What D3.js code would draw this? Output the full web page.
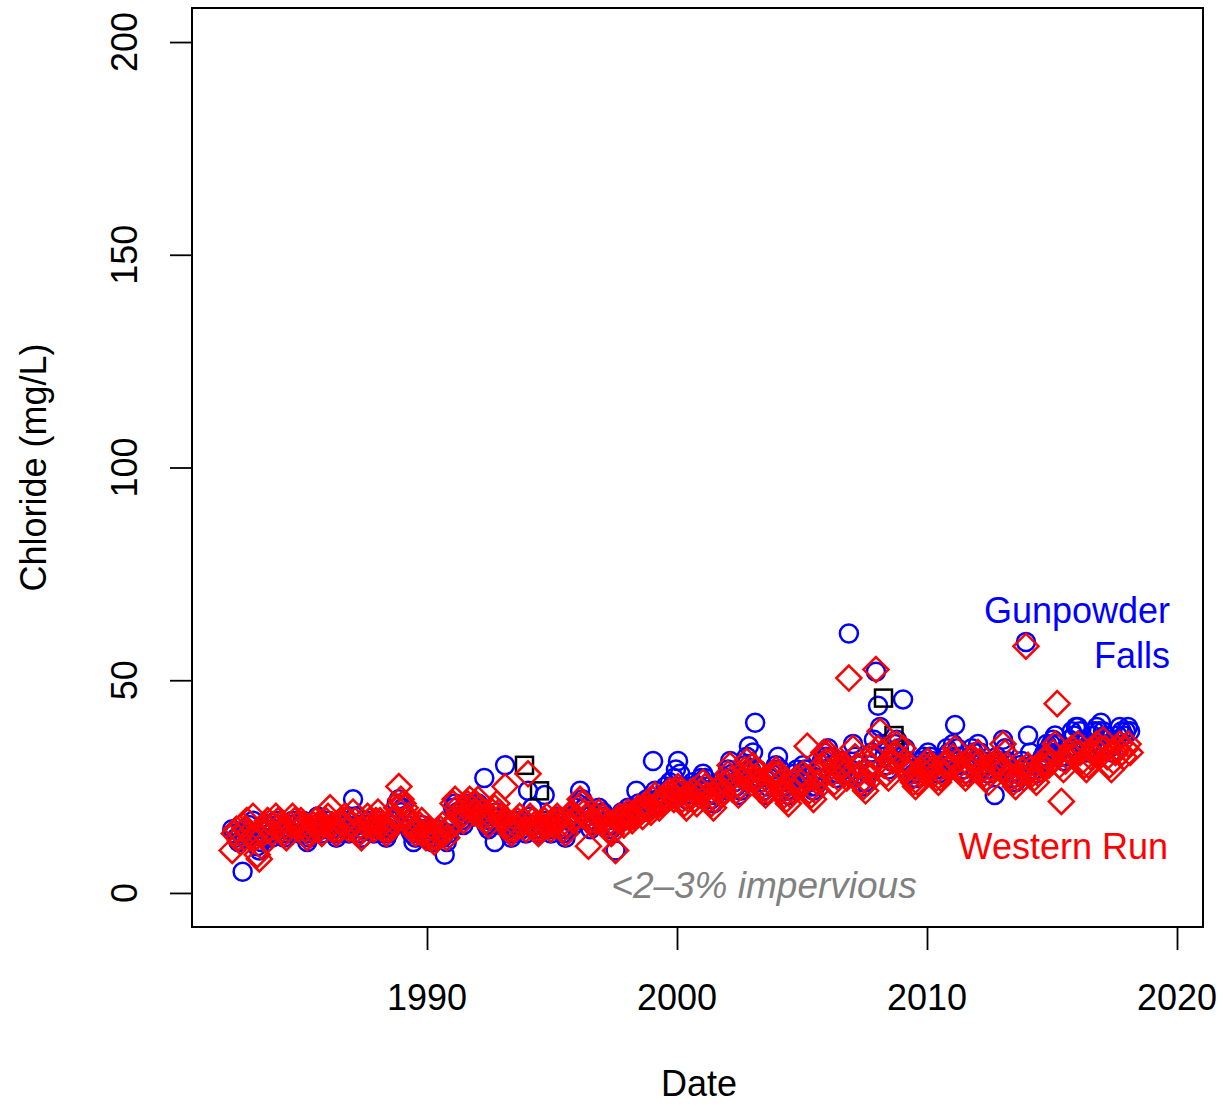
<!DOCTYPE html>
<html>
<head>
<meta charset="utf-8">
<script src="https://cdn.jsdelivr.net/npm/d3@7/dist/d3.min.js"></script>
<style>
  html, body { margin: 0; padding: 0; background: #fff; }
  svg { display: block; }
  text { font-family: "Liberation Sans", Arial, Helvetica, sans-serif; }
</style>
</head>
<body>
<svg id="chart" width="1223" height="1105"></svg>
<script>
// ---- Data (monthly samples, Jan..Dec; null = no sample) ----
const years = [1982,1983,1984,1985,1986,1987,1988,1989,1990,1991,1992,1993,1994,1995,1996,1997,1998,1999,2000,2001,2002,2003,2004,2005,2006,2007,2008,2009,2010,2011,2012,2013,2014,2015,2016,2017,2018];

// Gunpowder Falls (blue circles), chloride mg/L
const gunpowderFalls = [
  [null,null,15,14,13,12,14,5,13,15,16,14],
  [17,14,11,10,12,13,15,16,14,13,15,17],
  [16,15,14,13,14,15,16,17,16,15,14,16],
  [17,14,12,13,14,15,16,18,15,14,15,16],
  [17,16,15,14,13,14,16,17,15,16,14,15],
  [22,18,16,14,13,15,16,17,16,15,14,16],
  [17,16,15,14,13,14,15,16,17,21,22,19],
  [20,18,16,15,14,12,13,14,15,16,15,14],
  [14,13,12,13,14,15,14,13,9,12,14,16],
  [20,21,19,18,17,16,19,20,21,19,18,20],
  [21,19,18,27,16,15,17,18,12,19,18,17],
  [16,30,15,14,13,14,15,16,17,15,16,14],
  [24,18,20,16,15,14,15,16,23,17,15,14],
  [16,17,18,17,15,14,13,15,17,18,16,17],
  [21,24,22,20,18,17,15,16,17,18,20,18],
  [19,18,17,16,15,16,10,17,18,19,17,19],
  [20,19,18,19,24,21,20,19,21,22,21,20],
  [31,24,22,21,22,23,25,24,26,25,27,29],
  [31,28,25,23,22,24,25,26,24,23,25,27],
  [28,27,25,23,22,21,23,25,26,24,25,27],
  [29,31,28,26,25,23,24,27,30,32,34.5,29],
  [33,40,29,27,26,24,23,25,27,28,29,30],
  [32,29,26,25,24,23,24,26,28,29,27,28],
  [30,29,27,26,25,24,25,27,29,31,33,32],
  [34,32,30,28,27,28,30,31,29,28,61,29],
  [35,32,30,28,26,25,26,28,30,33,36,52],
  [44,39,35,32,30,29,31,33,35,36,34,32],
  [45.5,34,31,30,29,28,27,28,30,31,32,30],
  [33,32,31,30,29,28,29,31,32,34,33,32],
  [35,39.5,34,32,30,29,28,30,32,34,33,31],
  [35,33,31,30,29,28,29,30,23,32,31,30],
  [36,34,31,29,28,27,26,28,30,31,29,59],
  [37,33,30,29,28,30,31,32,33,35,34,35],
  [36,37,35,33,32,31,32,34,36,38,37,39],
  [39,38,36,34,33,34,35,37,38,39,38,40],
  [38,37,35,34,33,35,36,37,39,38,37,38],
  [39,38,null,null,null,null,null,null,null,null,null,null]
];

// Western Run (red diamonds), chloride mg/L
const westernRun = [
  [null,null,10,14,15,13,12,16,15,17,14,13],
  [18,13,9,8,11,14,16,17,15,14,16,18],
  [17,16,15,14,13,15,16,18,17,16,15,17],
  [16,15,13,14,15,16,17,16,15,14,16,17],
  [18,20,16,15,14,15,17,16,18,17,15,16],
  [19,17,15,14,13,15,16,18,17,16,15,17],
  [19,17,16,15,14,15,16,17,18,20,25,22],
  [21,20,18,17,16,15,14,15,16,17,14,13],
  [15,14,13,12,13,14,15,16,14,13,15,16],
  [21,22,20,19,18,17,20,21,22,20,19,21],
  [22,20,19,18,17,16,18,19,20,21,19,18],
  [17,25,16,15,14,15,16,17,18,16,17,15],
  [28,18,17,16,15,14,15,16,17,18,16,15],
  [16,17,18,17,16,15,14,16,18,19,17,18],
  [20,22,21,19,18,11,17,16,17,18,19,17],
  [18,17,16,15,14,16,10,17,18,17,16,18],
  [19,18,17,18,19,20,19,18,20,21,20,19],
  [22,23,21,20,21,22,23,22,24,23,22,24],
  [25,24,22,21,20,22,23,24,22,21,23,24],
  [26,25,23,22,21,20,22,24,25,23,24,26],
  [28,30,27,25,24,23,25,27,29,31,28,27],
  [30,29,27,26,25,24,23,24,26,27,28,29],
  [28,26,24,23,22,21,23,24,26,27,25,26],
  [28,27,34.5,24,23,22,24,26,28,30,33,31],
  [33,31,28,26,25,27,29,30,28,27,50.5,28],
  [34,32,30,28,26,25,24,26,28,30,32,52.5],
  [34,38,33,30,28,27,29,31,33,35,32,30],
  [34,31,29,28,27,26,25,26,28,29,30,28],
  [31,30,29,28,27,26,27,28,30,31,29,30],
  [32,34,31,30,29,28,27,28,30,32,31,30],
  [33,31,29,28,27,26,28,29,30,31,30,29],
  [35,33,30,28,27,26,25,27,28,29,27,58],
  [30,29,28,27,26,28,29,30,31,32,30,31],
  [33,35,44.5,30,21.5,29,31,32,33,34,32,33],
  [35,33,31,30,29,30,32,33,34,35,33,34],
  [36,34,32,30,29,31,33,34,35,33,32,34],
  [35,33,null,null,null,null,null,null,null,null,null,null]
];

// Partially visible black squares (third site)
const otherDates = [1993.9, 1994.5, 2008.26, 2008.68];
const otherValues = [30, 24, 45.8, 37];

const yTicks = [0, 50, 100, 150, 200];
const xTicks = [1990, 2000, 2010, 2020];

// ---- Build points ----
function flatten(rows) {
  const pts = [];
  rows.forEach((row, i) => row.forEach((v, m) => {
    if (v !== null) pts.push({ t: years[i] + (m + 0.5) / 12, v: v });
  }));
  return pts;
}
const gfPts = flatten(gunpowderFalls);
const wrPts = flatten(westernRun);
const otherPts = otherDates.map((t, i) => ({ t: t, v: otherValues[i] }));

// ---- Layout ----
const svg = d3.select("#chart");
const L = 192, R = 1203, T = 8, B = 927;
const x = d3.scaleLinear().domain([1980.6, 2021.04]).range([L, R]);
const y = d3.scaleLinear().domain([-8, 208]).range([B, T]);

// Points
const g = svg.append("g");
g.selectAll("circle.gf").data(gfPts).enter().append("circle")
  .attr("class", "gf")
  .attr("cx", d => x(d.t)).attr("cy", d => y(d.v)).attr("r", 9)
  .attr("fill", "none").attr("stroke", "#0000FF").attr("stroke-width", 2.5);

g.selectAll("rect.ot").data(otherPts).enter().append("rect")
  .attr("class", "ot")
  .attr("x", d => x(d.t) - 8.5).attr("y", d => y(d.v) - 8.5)
  .attr("width", 17).attr("height", 17)
  .attr("fill", "none").attr("stroke", "#000").attr("stroke-width", 2.5);

const dh = 12.5;
g.selectAll("path.wr").data(wrPts).enter().append("path")
  .attr("class", "wr")
  .attr("d", `M0,${-dh}L${dh},0L0,${dh}L${-dh},0Z`)
  .attr("transform", d => `translate(${x(d.t)},${y(d.v)})`)
  .attr("fill", "none").attr("stroke", "#FF0000").attr("stroke-width", 2.5);

// Box
svg.append("rect").attr("x", L).attr("y", T).attr("width", R - L).attr("height", B - T)
  .attr("fill", "none").attr("stroke", "#000").attr("stroke-width", 2);

// Y axis
const yAxis = d3.axisLeft(y).tickValues(yTicks).tickSize(22).tickPadding(0).tickFormat(() => "");
const ya = svg.append("g").attr("transform", `translate(${L},0)`).call(yAxis);
ya.select(".domain").attr("stroke", "none");
ya.selectAll("line").attr("stroke", "#000").attr("stroke-width", 1.8);
svg.selectAll("text.ytl").data(yTicks).enter().append("text")
  .attr("class", "ytl")
  .attr("transform", d => `translate(137,${y(d)}) rotate(-90)`)
  .attr("text-anchor", "middle").attr("font-size", 36).attr("fill", "#000")
  .text(d => d);

// X axis
const xAxis = d3.axisBottom(x).tickValues(xTicks).tickSize(23).tickFormat(() => "");
const xa = svg.append("g").attr("transform", `translate(0,${B})`).call(xAxis);
xa.select(".domain").attr("stroke", "none");
xa.selectAll("line").attr("stroke", "#000").attr("stroke-width", 1.8);
svg.selectAll("text.xtl").data(xTicks).enter().append("text")
  .attr("class", "xtl")
  .attr("x", d => x(d)).attr("y", 1010)
  .attr("text-anchor", "middle").attr("font-size", 36).attr("fill", "#000")
  .text(d => d);

// Axis titles
svg.append("text").attr("x", 699).attr("y", 1096).attr("text-anchor", "middle")
  .attr("font-size", 36).attr("fill", "#000").text("Date");
svg.append("text").attr("transform", `translate(46,${y(100)}) rotate(-90)`)
  .attr("text-anchor", "middle").attr("font-size", 36).attr("fill", "#000").text("Chloride (mg/L)");

// Annotations
svg.append("text").attr("x", 1170).attr("y", 623).attr("text-anchor", "end")
  .attr("font-size", 36).attr("fill", "#0000FF").text("Gunpowder");
svg.append("text").attr("x", 1170).attr("y", 668).attr("text-anchor", "end")
  .attr("font-size", 36).attr("fill", "#0000FF").text("Falls");
svg.append("text").attr("x", 1168).attr("y", 859).attr("text-anchor", "end")
  .attr("font-size", 36).attr("fill", "#FF0000").text("Western Run");
svg.append("text").attr("x", 764).attr("y", 898).attr("text-anchor", "middle")
  .attr("font-size", 37).attr("font-style", "italic").attr("fill", "#808080").text("<2–3% impervious");
</script>
</body>
</html>
